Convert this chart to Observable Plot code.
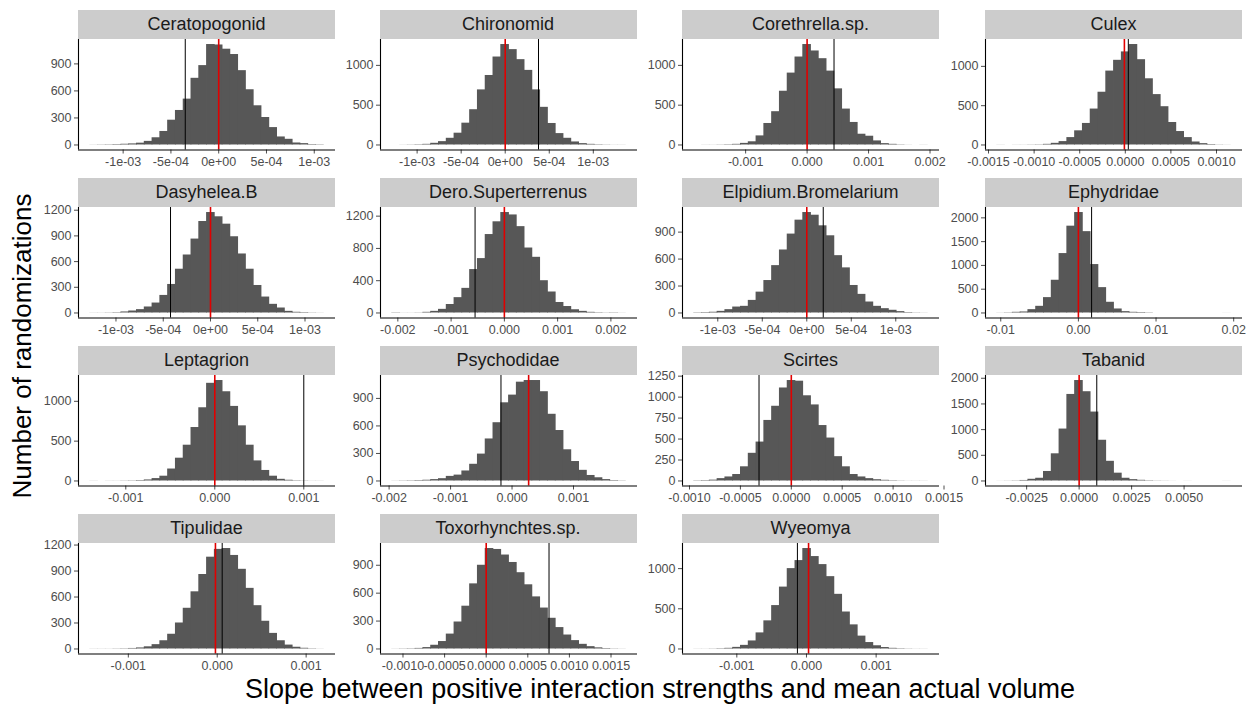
<!DOCTYPE html>
<html><head><meta charset="utf-8">
<script src="https://cdn.jsdelivr.net/npm/d3@7"></script>
<script src="https://cdn.jsdelivr.net/npm/@observablehq/plot@0.6"></script>
<style>
body{margin:0;background:#fff;font-family:"Liberation Sans",Arial,sans-serif;}
#root{position:relative;width:1252px;height:704px;overflow:hidden;background:#fff;}
.strip{position:absolute;background:#cccccc;color:#1a1a1a;font-size:18px;display:flex;align-items:center;justify-content:center;white-space:nowrap;}
.panel{position:absolute;}
.xtitle{position:absolute;left:78px;width:1164px;top:676px;text-align:center;font-size:27px;line-height:27px;color:#000;white-space:nowrap;}
.ytitle{position:absolute;left:22px;top:346px;transform:translate(-50%,-50%) rotate(-90deg);font-size:26px;line-height:26px;color:#000;white-space:nowrap;}
</style></head><body><div id="root"></div>
<script>
const species = ["Ceratopogonid","Chironomid","Corethrella.sp.","Culex","Dasyhelea.B","Dero.Superterrenus","Elpidium.Bromelarium","Ephydridae","Leptagrion","Psychodidae","Scirtes","Tabanid","Tipulidae","Toxorhynchtes.sp.","Wyeomya"];

// left edge of first bin and bin width (30 bins each)
const binStart = [-1.345e-3,-1.283e-3,-1.837e-3,-1.405e-3,-1.273e-3,-2.106e-3,-1.265e-3,-1.046e-2,-1.4e-3,-1.95e-3,-0.954e-3,-3.904e-3,-1.429e-3,-1.13e-3,-1.612e-3];
const binWidth = [0.0815e-3,0.0884e-3,0.1267e-3,0.0854e-3,0.0824e-3,0.1462e-3,0.0875e-3,1.003e-3,0.0875e-3,0.1267e-3,0.0765e-3,0.371e-3,0.0876e-3,0.0936e-3,0.1118e-3];

// counts per bin
const nCeratopogonid = [1,2,3,5,8,12,20,40,80,150,275,383,509,740,881,1115,1110,1063,1004,825,613,435,305,193,89,63,22,15,5,3];
const nChironomid = [0,1,2,4,8,21,42,84,148,274,443,692,873,1105,1262,1198,1072,937,692,473,270,143,84,38,17,8,4,2,1,1];
const nCorethrella = [0,1,1,2,4,8,20,40,114,270,418,675,903,1105,1262,1181,1084,928,705,451,283,135,110,51,17,8,3,1,0,1];
const nCulex = [1,0,1,1,2,3,8,21,43,94,180,274,457,671,940,1077,1184,1278,1085,842,641,487,286,171,94,38,17,6,2,1];
const nDasyhelea = [1,1,2,4,12,23,39,70,116,205,333,511,677,863,1068,1173,1123,1037,890,689,511,321,186,101,58,19,8,5,2,1];
const nDero = [3,1,1,2,8,20,45,105,190,305,538,674,972,1130,1245,1215,1070,805,690,400,260,130,80,40,20,8,4,2,3,1];
const nElpidium = [3,5,8,18,37,66,74,140,232,361,527,701,878,1033,1118,1088,970,859,638,502,306,207,122,74,48,30,15,5,2,1];
const nEphydridae = [2,5,14,21,70,140,323,688,1249,1825,2112,1710,1018,533,225,84,28,14,10,5,0,0,0,0,0,0,0,0,0,1];
const nLeptagrion = [1,0,1,1,2,3,6,13,30,60,150,286,449,671,919,1226,1261,1120,936,692,449,252,132,60,21,9,4,2,1,1];
const nPsychodidae = [1,2,3,5,8,15,25,50,64,109,182,293,458,635,852,936,1077,1095,1095,973,727,550,340,212,116,60,35,15,5,2];
const nScirtes = [3,5,10,28,48,77,169,330,464,722,891,1109,1198,1190,1016,907,661,512,290,169,77,48,28,15,8,4,2,1,1,1];
const nTabanid = [1,2,4,10,33,53,185,529,1011,1685,1956,1738,1342,793,383,152,53,26,13,6,3,2,1,0,1,0,0,0,0,1];
const nTipulidae = [1,1,1,2,3,6,12,25,50,95,170,300,470,660,860,1060,1150,1160,1080,920,700,500,320,180,95,45,20,8,3,1];
const nToxorhynchtes = [1,2,3,6,15,40,80,160,290,460,700,900,1080,1070,1010,930,820,690,560,440,330,230,150,90,50,25,12,5,2,1];
const nWyeomya = [1,1,2,4,8,20,45,100,200,350,540,770,1000,1100,1250,1150,1050,900,680,460,300,160,80,40,18,8,4,2,1,1];
const allCounts = [nCeratopogonid,nChironomid,nCorethrella,nCulex,nDasyhelea,nDero,nElpidium,nEphydridae,nLeptagrion,nPsychodidae,nScirtes,nTabanid,nTipulidae,nToxorhynchtes,nWyeomya];

// observed slope (black line) and mean of randomizations (red line)
const observedSlope = [-0.35e-3,0.378e-3,0.438e-3,0.033e-3,-0.423e-3,-0.55e-3,0.185e-3,0.0017,1.0e-3,-0.18e-3,-0.317e-3,0.84e-3,0.056e-3,0.755e-3,-0.13e-3];
const nullMean = [0,0,0,-0.01e-3,0,0,0,0,0,0.27e-3,0,0,-0.02e-3,0,0.03e-3];

// tick values and labels
const ticksSci = [-1e-3,-5e-4,0,5e-4,1e-3], labelsSci = ["-1e-03","-5e-04","0e+00","5e-04","1e-03"];
const ticks3a = [-0.001,0,0.001,0.002], labels3a = ["-0.001","0.000","0.001","0.002"];
const ticksCulex = [-0.0015,-0.001,-0.0005,0,0.0005,0.001], labelsCulex = ["-0.0015","-0.0010","-0.0005","0.0000","0.0005","0.0010"];
const ticksDero = [-0.002,-0.001,0,0.001,0.002], labelsDero = ["-0.002","-0.001","0.000","0.001","0.002"];
const ticksEphy = [-0.01,0,0.01,0.02], labelsEphy = ["-0.01","0.00","0.01","0.02"];
const ticks3b = [-0.001,0,0.001], labels3b = ["-0.001","0.000","0.001"];
const ticksPsy = [-0.002,-0.001,0,0.001], labelsPsy = ["-0.002","-0.001","0.000","0.001"];
const ticks4 = [-0.001,-0.0005,0,0.0005,0.001,0.0015], labels4 = ["-0.0010","-0.0005","0.0000","0.0005","0.0010","0.0015"];
const ticksTab = [-0.0025,0,0.0025,0.005], labelsTab = ["-0.0025","0.0000","0.0025","0.0050"];
const xTicks = [ticksSci,ticksSci,ticks3a,ticksCulex,ticksSci,ticksDero,ticksSci,ticksEphy,ticks3b,ticksPsy,ticks4,ticksTab,ticks3b,ticks4,ticks3b];
const xLabels = [labelsSci,labelsSci,labels3a,labelsCulex,labelsSci,labelsDero,labelsSci,labelsEphy,labels3b,labelsPsy,labels4,labelsTab,labels3b,labels4,labels3b];
const yTicks = [[0,300,600,900],[0,500,1000],[0,500,1000],[0,500,1000],[0,300,600,900,1200],[0,400,800,1200],[0,300,600,900],[0,500,1000,1500,2000],[0,500,1000],[0,300,600,900],[0,250,500,750,1000,1250],[0,500,1000,1500,2000],[0,300,600,900,1200],[0,300,600,900],[0,500,1000]];

// layout
const colX = [78, 379.5, 682, 985], panelW = 257;
const rowT = [38.5, 206.8, 375.1, 543.4], panelH = 110.5, stripH = 29;
const ML = 50, MR = 10, MB = 30;

const root = document.getElementById("root");
species.forEach((name, i) => {
  const col = i % 4, row = Math.floor(i / 4);
  const s = binStart[i], w = binWidth[i], counts = allCounts[i];
  const bins = counts.map((n, k) => ({x0: s + k * w, x1: s + (k + 1) * w, n}));
  const R = counts.length * w;
  const lo = Math.min(s, observedSlope[i], nullMean[i]);
  const hi = Math.max(s + R, observedSlope[i], nullMean[i]);
  const ex = (hi - lo) * 0.05;
  const xd = [lo - ex, hi + ex];
  const mx = d3.max(counts);
  const yd = [-0.05 * mx, 1.05 * mx];
  const xt = xTicks[i], xl = xLabels[i];
  const chart = Plot.plot({
    width: panelW + ML + MR, height: panelH + MB,
    marginLeft: ML, marginRight: MR, marginTop: 0, marginBottom: MB,
    style: {background: "transparent", fontFamily: "'Liberation Sans', Arial, sans-serif", fontSize: "12.5px", color: "#4d4d4d", overflow: "visible"},
    x: {domain: xd, ticks: xt, tickFormat: d => xl[xt.indexOf(d)], tickSize: 4, tickPadding: 3, label: null},
    y: {domain: yd, ticks: yTicks[i], tickFormat: d3.format("d"), tickSize: 4, tickPadding: 3, label: null},
    marks: [
      Plot.rectY(bins, {x1: "x0", x2: "x1", y: "n", fill: "#575757", insetLeft: -0.4, insetRight: -0.4}),
      Plot.ruleX([observedSlope[i]], {stroke: "#000", strokeWidth: 1}),
      Plot.ruleX([nullMean[i]], {stroke: "#e00000", strokeWidth: 1.6}),
      Plot.ruleX([xd[0]], {stroke: "#000", strokeWidth: 1.1}),
      Plot.ruleY([yd[0]], {stroke: "#000", strokeWidth: 1.1})
    ]
  });
  const wrap = document.createElement("div");
  wrap.className = "panel";
  wrap.style.left = (colX[col] - ML) + "px";
  wrap.style.top = rowT[row] + "px";
  wrap.appendChild(chart);
  root.appendChild(wrap);
  const strip = document.createElement("div");
  strip.className = "strip";
  strip.style.left = colX[col] + "px";
  strip.style.top = (rowT[row] - stripH) + "px";
  strip.style.width = panelW + "px";
  strip.style.height = stripH + "px";
  strip.textContent = name;
  root.appendChild(strip);
});
const xt = document.createElement("div");
xt.className = "xtitle";
xt.textContent = "Slope between positive interaction strengths and mean actual volume";
root.appendChild(xt);
const yt = document.createElement("div");
yt.className = "ytitle";
yt.textContent = "Number of randomizations";
root.appendChild(yt);
</script></body></html>
